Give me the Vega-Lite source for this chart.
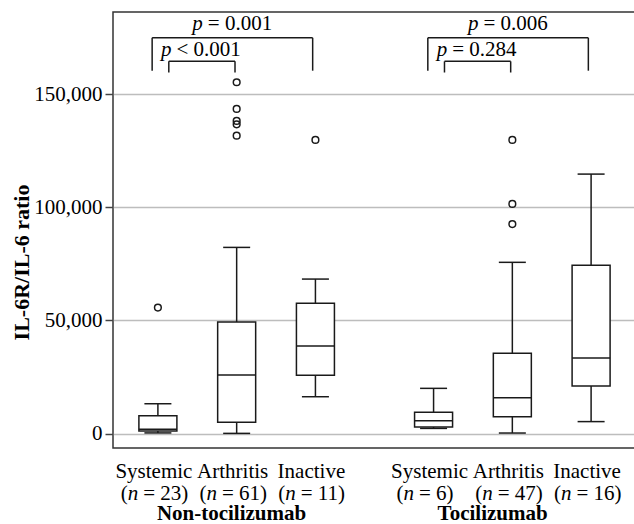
{
  "$schema": "https://vega.github.io/schema/vega-lite/v6.json",
  "width": 523,
  "height": 436,
  "autosize": {"type": "none"},
  "padding": {"left": 113, "top": 12, "right": 0, "bottom": 76},
  "background": "white",
  "config": {
    "font": "Liberation Serif",
    "view": {"stroke": "#333333", "strokeWidth": 1.5}
  },
  "datasets": {
    "boxes": [
      {"cat": "NT-Systemic", "lo": 300, "q1": 1150, "med": 1900, "q3": 7900, "hi": 13200},
      {"cat": "NT-Arthritis", "lo": 100, "q1": 5000, "med": 25900, "q3": 49300, "hi": 82300},
      {"cat": "NT-Inactive", "lo": 16300, "q1": 25800, "med": 38700, "q3": 57600, "hi": 68300},
      {"cat": "T-Systemic", "lo": 2300, "q1": 2900, "med": 5700, "q3": 9400, "hi": 20000},
      {"cat": "T-Arthritis", "lo": 250, "q1": 7500, "med": 15900, "q3": 35500, "hi": 75700},
      {"cat": "T-Inactive", "lo": 5300, "q1": 21000, "med": 33400, "q3": 74400, "hi": 114700}
    ],
    "outliers": [
      {"cat": "NT-Systemic", "value": 55700},
      {"cat": "NT-Arthritis", "value": 155300},
      {"cat": "NT-Arthritis", "value": 143500},
      {"cat": "NT-Arthritis", "value": 138200},
      {"cat": "NT-Arthritis", "value": 136700},
      {"cat": "NT-Arthritis", "value": 131700},
      {"cat": "NT-Inactive", "value": 129800},
      {"cat": "T-Arthritis", "value": 129800},
      {"cat": "T-Arthritis", "value": 101500},
      {"cat": "T-Arthritis", "value": 92600}
    ],
    "labels": [
      {"cat": "NT-Systemic", "name": "Systemic", "open": "(", "nvar": "n", "rest": "= 23)"},
      {"cat": "NT-Arthritis", "name": "Arthritis", "open": "(", "nvar": "n", "rest": "= 61)"},
      {"cat": "NT-Inactive", "name": "Inactive", "open": "(", "nvar": "n", "rest": "= 11)"},
      {"cat": "T-Systemic", "name": "Systemic", "open": "(", "nvar": "n", "rest": "= 6)"},
      {"cat": "T-Arthritis", "name": "Arthritis", "open": "(", "nvar": "n", "rest": "= 47)"},
      {"cat": "T-Inactive", "name": "Inactive", "open": "(", "nvar": "n", "rest": "= 16)"}
    ],
    "groups": [
      {"group": "Non-tocilizumab", "cat": "NT-Arthritis"},
      {"group": "Tocilizumab", "cat": "T-Arthritis"}
    ],
    "tests": [
      {"level": "outer", "from": "NT-Systemic", "to": "NT-Inactive", "stat": "p", "op": "= 0.001"},
      {"level": "inner", "from": "NT-Systemic", "to": "NT-Arthritis", "stat": "p", "op": "< 0.001"},
      {"level": "outer", "from": "T-Systemic", "to": "T-Inactive", "stat": "p", "op": "= 0.006"},
      {"level": "inner", "from": "T-Systemic", "to": "T-Arthritis", "stat": "p", "op": "= 0.284"}
    ]
  },
  "layer": [
    {
      "data": {"name": "boxes"},
      "mark": {"type": "rule", "color": "#1a1a1a", "strokeWidth": 1.5},
      "encoding": {
        "x": {"field": "cat", "type": "nominal", "axis": null,
              "scale": {"domain": ["NT-Systemic", "s1", "NT-Arthritis", "s3", "NT-Inactive", "s5", "s6", "T-Systemic", "s8", "T-Arthritis", "s10", "T-Inactive"], "paddingInner": 0, "paddingOuter": 0.64}},
        "y": {"field": "lo", "type": "quantitative",
              "scale": {"domain": [-6365, 186347], "nice": false, "zero": false},
              "axis": {"values": [0, 50000, 100000, 150000], "format": ",.0f", "title": "IL-6R/IL-6 ratio",
                       "titleFont": "Liberation Serif", "titleFontSize": 22, "titleFontWeight": "bold", "titleColor": "black",
                       "titleX": -85, "titleY": 250, "titleBaseline": "alphabetic", "titleAngle": -90,
                       "labelFont": "Liberation Serif", "labelFontSize": 21, "labelColor": "black", "labelPadding": 3,
                       "tickSize": 8, "tickColor": "#444444", "tickWidth": 1.5, "domain": false,
                       "grid": true, "gridColor": "#bdbdbd", "gridWidth": 1.5}},
        "y2": {"field": "hi"}
      }
    },
    {
      "data": {"name": "boxes"},
      "mark": {"type": "bar", "width": 38, "fill": "white", "stroke": "#1a1a1a", "strokeWidth": 1.5},
      "encoding": {
        "x": {"field": "cat", "type": "nominal"},
        "y": {"field": "q1", "type": "quantitative"},
        "y2": {"field": "q3"}
      }
    },
    {
      "data": {"name": "boxes"},
      "mark": {"type": "tick", "size": 38, "thickness": 1.5, "color": "#1a1a1a", "opacity": 1},
      "encoding": {
        "x": {"field": "cat", "type": "nominal"},
        "y": {"field": "med", "type": "quantitative"}
      }
    },
    {
      "data": {"name": "boxes"},
      "mark": {"type": "tick", "size": 27, "thickness": 1.5, "color": "#1a1a1a", "opacity": 1},
      "encoding": {
        "x": {"field": "cat", "type": "nominal"},
        "y": {"field": "lo", "type": "quantitative"}
      }
    },
    {
      "data": {"name": "boxes"},
      "mark": {"type": "tick", "size": 27, "thickness": 1.5, "color": "#1a1a1a", "opacity": 1},
      "encoding": {
        "x": {"field": "cat", "type": "nominal"},
        "y": {"field": "hi", "type": "quantitative"}
      }
    },
    {
      "data": {"name": "outliers"},
      "mark": {"type": "point", "shape": "circle", "size": 45, "filled": false, "stroke": "#1a1a1a", "strokeWidth": 1.5, "opacity": 1},
      "encoding": {
        "x": {"field": "cat", "type": "nominal"},
        "y": {"field": "value", "type": "quantitative"}
      }
    },
    {
      "data": {"name": "tests"},
      "transform": [{"filter": "datum.level === 'outer'"}],
      "mark": {"type": "rule", "color": "#1a1a1a", "strokeWidth": 1.5},
      "encoding": {
        "x": {"field": "from", "type": "nominal", "bandPosition": 0.354},
        "x2": {"field": "to", "bandPosition": 0.43},
        "y": {"datum": 174943}
      }
    },
    {
      "data": {"name": "tests"},
      "transform": [{"filter": "datum.level === 'outer'"}],
      "mark": {"type": "rule", "color": "#1a1a1a", "strokeWidth": 1.5},
      "encoding": {
        "x": {"field": "from", "type": "nominal", "bandPosition": 0.354},
        "y": {"datum": 160402},
        "y2": {"datum": 174943}
      }
    },
    {
      "data": {"name": "tests"},
      "transform": [{"filter": "datum.level === 'outer'"}],
      "mark": {"type": "rule", "color": "#1a1a1a", "strokeWidth": 1.5},
      "encoding": {
        "x": {"field": "to", "type": "nominal", "bandPosition": 0.43},
        "y": {"datum": 160402},
        "y2": {"datum": 174943}
      }
    },
    {
      "data": {"name": "tests"},
      "transform": [{"filter": "datum.level === 'inner'"}],
      "mark": {"type": "rule", "color": "#1a1a1a", "strokeWidth": 1.5},
      "encoding": {
        "x": {"field": "from", "type": "nominal", "bandPosition": 0.777},
        "x2": {"field": "to", "bandPosition": 0.458},
        "y": {"datum": 164534}
      }
    },
    {
      "data": {"name": "tests"},
      "transform": [{"filter": "datum.level === 'inner'"}],
      "mark": {"type": "rule", "color": "#1a1a1a", "strokeWidth": 1.5},
      "encoding": {
        "x": {"field": "from", "type": "nominal", "bandPosition": 0.777},
        "y": {"datum": 159606},
        "y2": {"datum": 164534}
      }
    },
    {
      "data": {"name": "tests"},
      "transform": [{"filter": "datum.level === 'inner'"}],
      "mark": {"type": "rule", "color": "#1a1a1a", "strokeWidth": 1.5},
      "encoding": {
        "x": {"field": "to", "type": "nominal", "bandPosition": 0.458},
        "y": {"datum": 159606},
        "y2": {"datum": 164534}
      }
    },
    {
      "data": {"name": "tests"},
      "transform": [{"filter": "datum.level === 'outer'"}],
      "mark": {"type": "text", "font": "Liberation Serif", "fontSize": 21, "color": "black", "baseline": "alphabetic", "align": "right", "fontStyle": "italic"},
      "encoding": {
        "x": {"field": "from", "type": "nominal", "bandPosition": 1.64},
        "y": {"datum": 178391},
        "text": {"field": "stat"}
      }
    },
    {
      "data": {"name": "tests"},
      "transform": [{"filter": "datum.level === 'outer'"}],
      "mark": {"type": "text", "font": "Liberation Serif", "fontSize": 21, "color": "black", "baseline": "alphabetic", "align": "left", "dx": 5},
      "encoding": {
        "x": {"field": "from", "type": "nominal", "bandPosition": 1.64},
        "y": {"datum": 178391},
        "text": {"field": "op"}
      }
    },
    {
      "data": {"name": "tests"},
      "transform": [{"filter": "datum.level === 'inner'"}],
      "mark": {"type": "text", "font": "Liberation Serif", "fontSize": 21, "color": "black", "baseline": "alphabetic", "align": "right", "fontStyle": "italic"},
      "encoding": {
        "x": {"field": "from", "type": "nominal", "bandPosition": 0.845},
        "y": {"datum": 166811},
        "text": {"field": "stat"}
      }
    },
    {
      "data": {"name": "tests"},
      "transform": [{"filter": "datum.level === 'inner'"}],
      "mark": {"type": "text", "font": "Liberation Serif", "fontSize": 21, "color": "black", "baseline": "alphabetic", "align": "left", "dx": 5},
      "encoding": {
        "x": {"field": "from", "type": "nominal", "bandPosition": 0.845},
        "y": {"datum": 166811},
        "text": {"field": "op"}
      }
    },
    {
      "data": {"name": "labels"},
      "mark": {"type": "text", "font": "Liberation Serif", "fontSize": 21, "color": "black", "baseline": "alphabetic", "align": "center", "dx": -4},
      "encoding": {
        "x": {"field": "cat", "type": "nominal"},
        "y": {"datum": -19625},
        "text": {"field": "name"}
      }
    },
    {
      "data": {"name": "labels"},
      "mark": {"type": "text", "font": "Liberation Serif", "fontSize": 21, "color": "black", "baseline": "alphabetic", "align": "right", "dx": -10.5},
      "encoding": {
        "x": {"field": "cat", "type": "nominal", "bandPosition": 0},
        "y": {"datum": -29349},
        "text": {"field": "open"}
      }
    },
    {
      "data": {"name": "labels"},
      "mark": {"type": "text", "font": "Liberation Serif", "fontSize": 21, "color": "black", "baseline": "alphabetic", "align": "right", "fontStyle": "italic"},
      "encoding": {
        "x": {"field": "cat", "type": "nominal", "bandPosition": 0},
        "y": {"datum": -29349},
        "text": {"field": "nvar"}
      }
    },
    {
      "data": {"name": "labels"},
      "mark": {"type": "text", "font": "Liberation Serif", "fontSize": 21, "color": "black", "baseline": "alphabetic", "align": "left", "dx": 5},
      "encoding": {
        "x": {"field": "cat", "type": "nominal", "bandPosition": 0},
        "y": {"datum": -29349},
        "text": {"field": "rest"}
      }
    },
    {
      "data": {"name": "groups"},
      "transform": [{"filter": "datum.group === 'Non-tocilizumab'"}],
      "mark": {"type": "text", "font": "Liberation Serif", "fontSize": 21, "color": "black", "baseline": "alphabetic", "align": "center", "fontWeight": "bold"},
      "encoding": {
        "x": {"field": "cat", "type": "nominal", "bandPosition": 0.37},
        "y": {"datum": -38189},
        "text": {"field": "group"}
      }
    },
    {
      "data": {"name": "groups"},
      "transform": [{"filter": "datum.group === 'Tocilizumab'"}],
      "mark": {"type": "text", "font": "Liberation Serif", "fontSize": 21, "color": "black", "baseline": "alphabetic", "align": "center", "fontWeight": "bold"},
      "encoding": {
        "x": {"field": "cat", "type": "nominal", "bandPosition": 0},
        "y": {"datum": -38189},
        "text": {"field": "group"}
      }
    }
  ]
}
